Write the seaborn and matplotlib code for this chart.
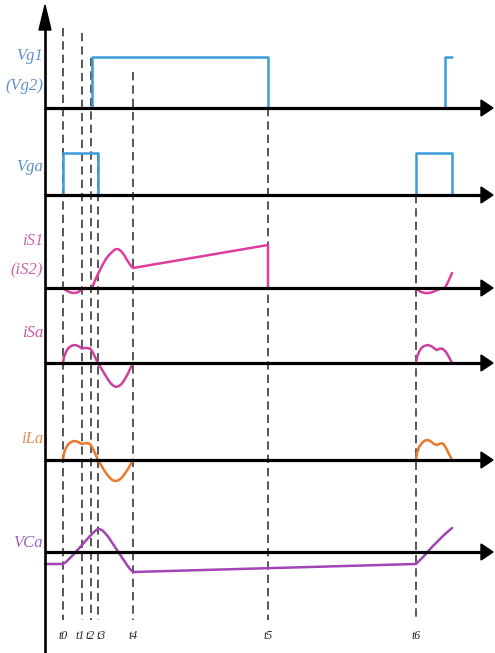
import matplotlib
matplotlib.use("Agg")
import matplotlib.pyplot as plt
from matplotlib.patches import Polygon
import pandas as pd
import seaborn as sns

# ---------------- data ----------------
# switching instants (time axis in drawing units)
event_labels = ["t0", "t1", "t2", "t3", "t4", "t5", "t6"]
event_times = [63, 82, 91, 98, 133, 268, 416]

# gate signals: each inner list is one continuous piece of the waveform
vg1_t = [[92, 92, 268, 268], [445, 445, 452]]
vg1_v = [[0, 51, 51, 0], [0, 51, 51]]

vga_t = [[63, 63, 98, 98], [416, 416, 452, 452]]
vga_v = [[0, 42, 42, 0], [0, 42, 42, 0]]

# main switch current iS1 (iS2)
is1_t = [[63, 65, 68, 71, 74, 77, 80, 83, 85],
         [92, 94, 97, 100, 103, 106, 109, 112, 115, 117, 119, 121, 123, 125,
          127, 129, 131, 133, 268, 268],
         [416, 418, 421, 425, 429, 433, 437, 441, 445, 447, 449, 452]]
is1_v = [[0, -1.5, -3.5, -4.6, -5, -4.6, -3, -1, 0],
         [0, 5, 12, 18, 24, 29, 33, 36, 38.5, 39, 38.5, 37, 34.5, 31.5,
          28, 25, 22, 20, 43, 0],
         [0, -2, -4, -5, -5, -4, -2, -0.5, 0, 4, 8, 15]]

# auxiliary switch current iSa
isa_t = [[63, 64, 66, 68, 71, 74, 77, 80, 82, 84, 87, 90, 92, 94, 96, 98,
          101, 104, 107, 110, 113, 116, 119, 122, 125, 128, 131, 133],
         [416, 417, 419, 421, 424, 428, 432, 435, 437, 440, 443, 446, 449, 452]]
isa_v = [[0, 6, 11, 14.5, 17, 18, 17.5, 16, 14.5, 15, 15, 14.5, 12, 8, 4, 0,
          -5, -10, -15, -19.5, -22.5, -24, -23, -20.5, -16, -10.5, -4, 0],
         [0, 6, 11, 14.5, 17, 18, 16.5, 14, 13, 14.5, 14, 11, 6, 0]]

# auxiliary inductor current iLa
ila_t = [[63, 64, 66, 68, 71, 74, 77, 80, 82, 84, 87, 90, 92, 94, 96, 98,
          101, 104, 107, 110, 113, 116, 119, 122, 125, 128, 131, 133],
         [416, 417, 419, 422, 425, 428, 431, 434, 437, 440, 443, 446, 449, 452]]
ila_v = [[0, 7, 12, 15.5, 18, 19, 18.5, 17, 16, 16.5, 17, 16, 13, 9, 4.5, 0,
          -5, -10, -14.5, -18, -20.5, -21, -20, -17.5, -13.5, -9, -3.5, 0],
         [0, 7, 13, 17, 19.5, 20, 18.5, 16, 15, 16.5, 16.5, 12, 6, 0]]

# auxiliary capacitor voltage VCa
vca_t = [[45, 63, 66, 70, 74, 78, 82, 86, 90, 94, 97, 99, 102, 105, 108,
          112, 116, 120, 124, 127, 130, 133, 416, 420, 424, 428, 432, 436,
          440, 444, 448, 452]]
vca_v = [[-12, -12, -10, -6, -2, 2.5, 7, 11.5, 16, 20, 22.5, 23, 22, 19,
          15.5, 9.5, 3.5, -2.5, -8.5, -13, -17, -20, -12, -8, -4, 0.5, 5, 9,
          13, 17, 20.5, 24]]

trace_lines = [["Vg1", "(Vg2)"], ["Vga"], ["iS1", "(iS2)"], ["iSa"], ["iLa"],
               ["VCa"]]

# ---------------- layout / style ----------------
W, H = 495, 653
baselines = [108, 195, 288, 363, 460, 552]
colors = ["#3d9ad9", "#3d9ad9", "#de3d9e", "#c8429e", "#e8782e", "#a244b4"]
label_colors = ["#5b8fc8", "#5b8fc8", "#cc66aa", "#c35aa6", "#e08a55", "#9a62c0"]
label_y = [[56, 86], [167], [241, 270], [333], [439], [543]]
dash_tops = [28, 33, 58, 153, 72, 108, 195]
dash_bottom = 620

sns.set_theme(style="white")
plt.rcParams["font.family"] = ["Liberation Serif", "DejaVu Serif"]

fig = plt.figure(figsize=(W / 100, H / 100), dpi=100)
ax = fig.add_axes([0, 0, 1, 1])
ax.set_xlim(0, W)
ax.set_ylim(H, 0)
ax.axis("off")


def to_frame(ts, vs, base):
    rows = []
    for k, (tt, vv) in enumerate(zip(ts, vs)):
        for t, v in zip(tt, vv):
            rows.append({"t": t, "y": base - v, "seg": k})
    return pd.DataFrame(rows)


# dashed event markers
for t, top in zip(event_times, dash_tops):
    ax.plot([t, t], [top, dash_bottom], color="#3a3a3a", lw=1.2,
            ls=(0, (5, 3)), zorder=1)

# waveforms
traces = [(vg1_t, vg1_v), (vga_t, vga_v), (is1_t, is1_v),
          (isa_t, isa_v), (ila_t, ila_v), (vca_t, vca_v)]
for (ts, vs), base, c in zip(traces, baselines, colors):
    df = to_frame(ts, vs, base)
    sns.lineplot(data=df, x="t", y="y", units="seg", estimator=None,
                 sort=False, color=c, lw=1.8, ax=ax, legend=False, zorder=3)

# time axes with arrowheads
x0, x_tip = 45, 493
for base in baselines:
    ax.plot([x0, x_tip - 8], [base, base], color="black", lw=2.3,
            solid_capstyle="butt", zorder=4)
    ax.add_patch(Polygon([[x_tip, base], [x_tip - 12, base - 8],
                          [x_tip - 12, base + 8]], closed=True,
                         color="black", zorder=4))

# vertical axis
ax.plot([x0, x0], [28, H], color="black", lw=1.9, zorder=4)
ax.add_patch(Polygon([[x0, 5], [x0 - 6, 30], [x0 + 6, 30]], closed=True,
                     color="black", zorder=4))

# trace names
for lines, ys, c in zip(trace_lines, label_y, label_colors):
    for txt, y in zip(lines, ys):
        ax.text(43, y, txt, color=c, fontsize=12, style="italic",
                ha="right", va="center")

# event labels
label_x = [63, 80, 90, 101, 133, 268, 416]
for lab, x in zip(event_labels, label_x):
    ax.text(x, 636, lab, color="#222222", fontsize=8.5, style="italic",
            ha="center", va="center")

ax.set_xlabel("")
ax.set_ylabel("")
fig.savefig("out.png", dpi=100)
